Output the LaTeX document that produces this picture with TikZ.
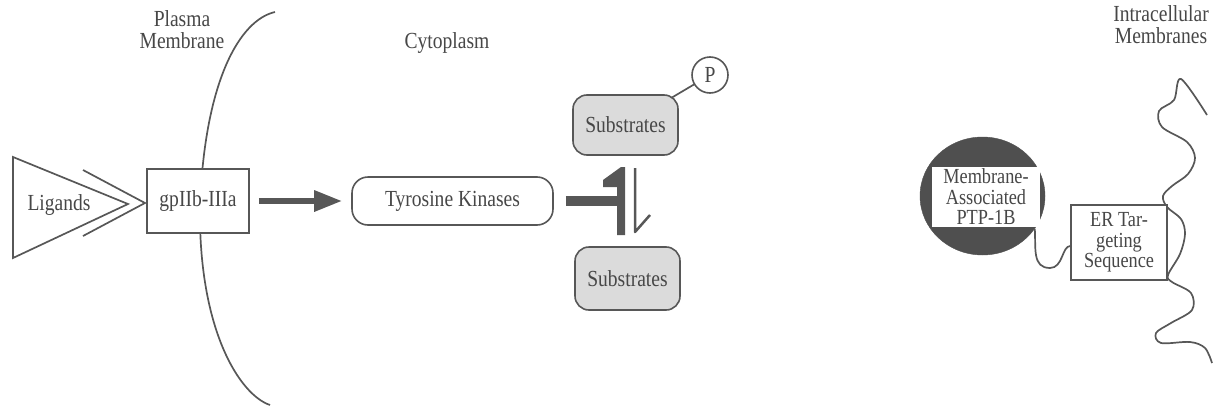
\documentclass[tikz,border=0pt]{standalone}
\usepackage{fontspec}
\setmainfont{Liberation Serif}[FakeStretch=0.85]
\usetikzlibrary{arrows.meta,shapes.geometric,backgrounds,calc}
\definecolor{ink}{rgb}{0.34,0.34,0.34}
\definecolor{txt}{rgb}{0.28,0.28,0.28}
\definecolor{dotfill}{rgb}{0.86,0.86,0.86}
\definecolor{darkfill}{rgb}{0.31,0.31,0.31}
\begin{document}
\begin{tikzpicture}[x=1pt,y=-1pt,
  every node/.style={text=txt, font=\fontsize{23}{22}\selectfont, inner sep=0pt},
  boxfont/.style={font=\fontsize{21.5}{20.5}\selectfont},
  link/.style={draw=ink, line width=1.7pt},
  sqbox/.style={draw=ink, line width=1.6pt, fill=white, align=center},
  rbox/.style={sqbox, rounded corners=16pt},
  subbox/.style={draw=ink, line width=1.6pt, fill=dotfill, rounded corners=14pt, minimum width=105pt},
  lbl/.style={align=center},
  bigarrow/.style={draw=ink, line width=6pt, -{Triangle[length=28pt,width=20pt]}},
  inhib/.style={draw=ink, line width=9.5pt},
  thinharp/.style={draw=ink, line width=2.5pt, line join=round}]
\useasboundingbox (0,0) rectangle (1215,407);

% labels
\node[lbl] (pm) at (182,30) {Plasma\\Membrane};
\node[anchor=base] (cyto) at (447,48) {Cytoplasm};
\node[lbl] (icm) at (1161,25) {Intracellular\\Membranes};

% plasma membrane arc
\draw[link] (275,12) .. controls (240,20) and (205,80) .. (200,205) .. controls (198,330) and (240,395) .. (270,405);

% ligands
\draw[link, line join=miter] (13,157) -- (13,258) -- (128,204) -- cycle;
\node[anchor=base] (lig) at (59,210) {Ligands};
\draw[link, line join=miter] (83,170) -- (145,203) -- (83,236);

% receptor
\node[sqbox, minimum width=102pt, minimum height=64pt] (gp) at (198,201) {gpIIb-IIIa};

% tyrosine kinases
\node[rbox, minimum width=201pt, minimum height=48pt] (tk) at (452.5,201) {Tyrosine Kinases};
\draw[bigarrow, shorten <=9pt, shorten >=9pt] (gp) -- (tk);

% substrates
\node[subbox, minimum height=60pt] (sub1) at (625.5,125) {Substrates};
\node[subbox, minimum height=63pt] (sub2) at (627.5,278.5) {Substrates};
\node[circle, draw=ink, line width=1.6pt, fill=white, minimum size=36pt] (P) at (710,75) {P};
\begin{scope}[on background layer]
  \draw[link] (sub1.center) -- (P.center);
\end{scope}

% equilibrium
\coordinate (eqm) at (617,201);
\draw[inhib, shorten <=12pt] (tk.east) -- (eqm);
\fill[ink] (603,180) -- (621,167) -- (625,167) -- (625,235) -- (617,235) -- (617,187) -- (603,187) -- cycle;
\draw[thinharp] (635,168) -- (635,232) -- (650,215);

% intracellular membrane
\draw[link, line join=round] plot[smooth, tension=0.55] coordinates {(1207,115) (1181,79) (1174,100) (1159,111) (1162,127) (1187,142) (1195,158) (1188,174) (1172,186) (1163,196) (1167,207) (1181,219) (1185,234) (1180,254) (1168,275) (1172,282) (1191,293) (1192,310) (1171,323) (1156,333) (1161,343) (1190,342) (1205,348) (1212,363)};

% PTP-1B
\node[ellipse, fill=darkfill, draw=darkfill, minimum width=125pt, minimum height=118pt] (ell) at (982.5,196) {};
\node[fill=white, align=center, minimum width=108pt, minimum height=60pt, boxfont] (ptp) at (986,197) {Membrane-\\Associated\\PTP-1B};
\node[sqbox, minimum width=96pt, minimum height=75pt, boxfont] (er) at (1119,242.5) {ER Tar-\\geting\\Sequence};
\draw[link] (ell.-32) .. controls (1036,248) and (1032,268) .. (1050,268) .. controls (1063,268) and (1062,246) .. ($(er.west)+(0,3.5)$);
\end{tikzpicture}
\end{document}
